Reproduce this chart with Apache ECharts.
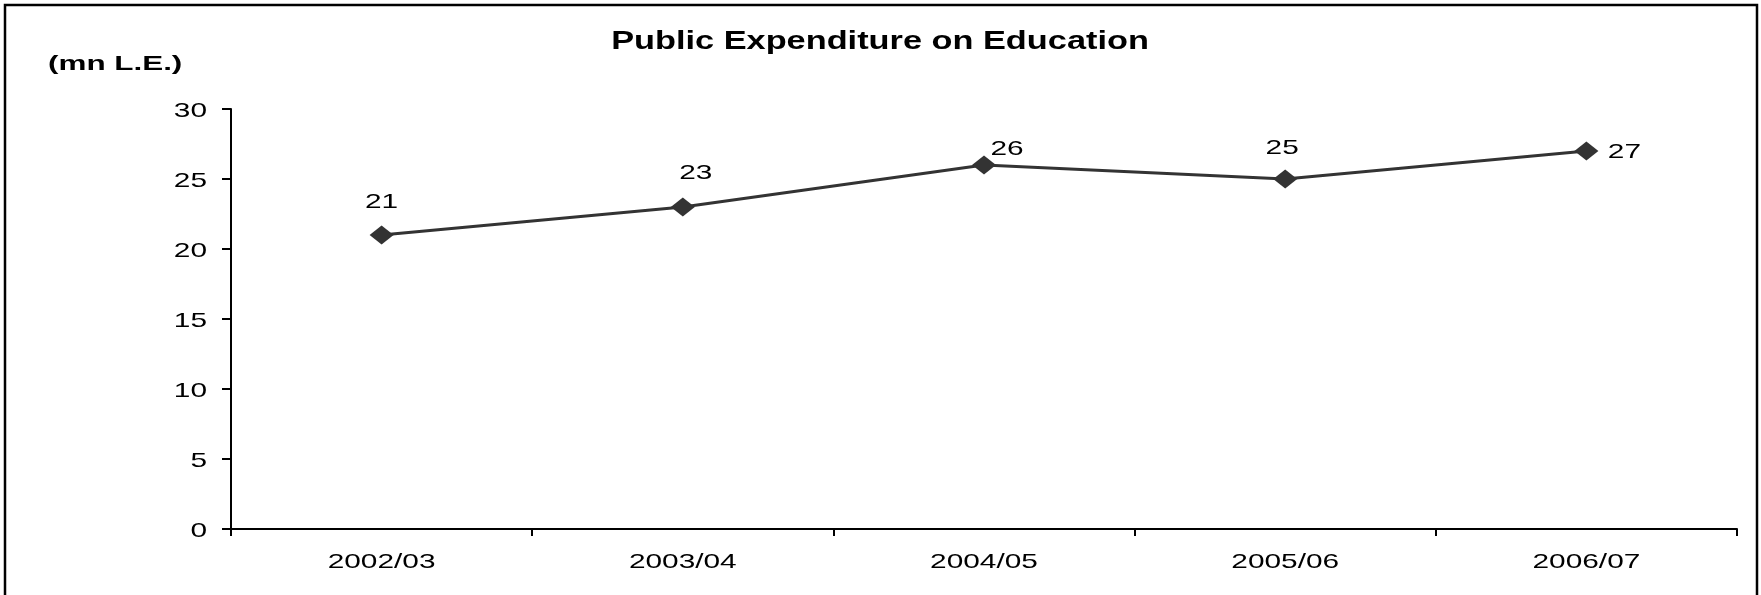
<!DOCTYPE html>
<html>
<head>
<meta charset="utf-8">
<title>Public Expenditure on Education</title>
<script src="https://cdn.jsdelivr.net/npm/echarts@6/dist/echarts.min.js"></script>
<style>
  html, body { margin: 0; padding: 0; background: #ffffff; }
  #chart { width: 1761px; height: 595px; }
</style>
</head>
<body>
<div id="chart"></div>
<script>
// Fiscal years on the category axis
const years = ['2002/03', '2003/04', '2004/05', '2005/06', '2006/07'];
// Public expenditure on education, million Egyptian pounds
const expenditure = [21, 23, 26, 25, 27];
// Value-axis ticks
const yTicks = [0, 5, 10, 15, 20, 25, 30];

// Offset of each value label from its marker (px)
const labelOffsets = [[0, -33], [13, -34], [23, -16], [-3, -31], [38, 1]];

const FONT = '"Liberation Sans", Arial, sans-serif';
// The lettering is set wide: glyphs are stretched horizontally
const WIDE = 1.42;

const chart = echarts.init(document.getElementById('chart'), null, { renderer: 'canvas' });

chart.setOption({
  backgroundColor: '#ffffff',
  animation: false,
  grid: { left: 231, right: 24, top: 109, bottom: 66, containLabel: false },
  xAxis: {
    type: 'category',
    data: years,
    boundaryGap: true,
    axisLine: { lineStyle: { color: '#000', width: 2 } },
    axisTick: { show: true, length: 7, lineStyle: { color: '#000', width: 2 } },
    axisLabel: { show: false },
    splitLine: { show: false }
  },
  yAxis: {
    type: 'value',
    min: yTicks[0],
    max: yTicks[yTicks.length - 1],
    interval: yTicks[1] - yTicks[0],
    axisLine: { show: true, lineStyle: { color: '#000', width: 2 } },
    axisTick: { show: true, length: 9, lineStyle: { color: '#000', width: 2 } },
    axisLabel: { show: false },
    splitLine: { show: false }
  },
  series: [{
    type: 'line',
    data: expenditure,
    symbol: 'diamond',
    symbolSize: [24, 19],
    itemStyle: { color: '#333333' },
    lineStyle: { color: '#333333', width: 3 },
    label: { show: false }
  }]
});

// Wide-set text placed from the chart's own coordinate system
function wideText(x, y, text, opts) {
  return {
    type: 'text',
    x: x,
    y: y,
    scaleX: opts.scaleX || WIDE,
    silent: true,
    z: 10,
    style: {
      text: text,
      font: (opts.bold ? 'bold ' : '') + (opts.size || 21) + 'px ' + FONT,
      fill: '#000',
      align: opts.align || 'center',
      verticalAlign: 'middle'
    }
  };
}

const texts = [];

// Title and unit
texts.push(wideText(880, 42, 'Public Expenditure on Education', { bold: true, size: 26, scaleX: 1.32 }));
texts.push(wideText(48, 64, '(mn L.E.)', { bold: true, size: 20, scaleX: 1.57, align: 'left' }));

// Value-axis tick labels
yTicks.forEach(function (t) {
  const p = chart.convertToPixel({ yAxisIndex: 0 }, t);
  texts.push(wideText(207, p + 2, String(t), { align: 'right' }));
});

// Category labels
const xAxisY = chart.convertToPixel({ yAxisIndex: 0 }, yTicks[0]);
years.forEach(function (y) {
  const p = chart.convertToPixel({ xAxisIndex: 0 }, y);
  texts.push(wideText(p, xAxisY + 33, y, {}));
});

// Value labels beside the markers
expenditure.forEach(function (v, i) {
  const p = chart.convertToPixel({ seriesIndex: 0 }, [i, v]);
  texts.push(wideText(p[0] + labelOffsets[i][0], p[1] + labelOffsets[i][1], String(v), {}));
});

// Frame round the chart
texts.push({
  type: 'rect',
  silent: true,
  shape: { x: 5, y: 5, width: 1752, height: 700 },
  style: { fill: 'none', stroke: '#000', lineWidth: 2.5 }
});

chart.setOption({ graphic: texts });
</script>
</body>
</html>
